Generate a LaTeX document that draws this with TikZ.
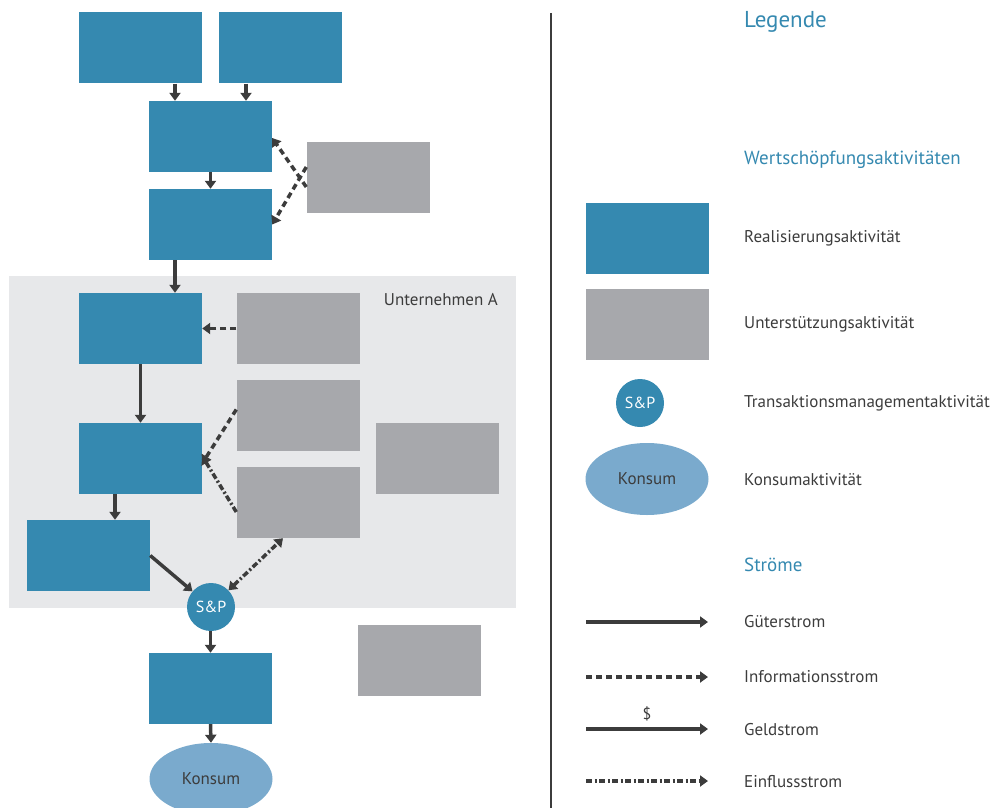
\documentclass[tikz,border=0pt]{standalone}
\usepackage{fontspec}
\setmainfont{PT Sans}
\usetikzlibrary{arrows.meta,shapes.geometric}
\definecolor{SPBlue}{RGB}{53,137,176}
\definecolor{SPGray}{RGB}{167,168,172}
\definecolor{SPBack}{RGB}{231,232,234}
\definecolor{KonsumBlue}{RGB}{122,170,205}
\definecolor{FlowGray}{RGB}{60,60,60}

\tikzset{
	realbox/.style={rectangle, fill=SPBlue, draw=none, minimum width=123pt, minimum height=71pt, inner sep=0pt},
	stuetzbox/.style={rectangle, fill=SPGray, draw=none, minimum width=123pt, minimum height=71pt, inner sep=0pt},
	tmcircle/.style={circle, fill=SPBlue, draw=none, minimum size=48pt, inner sep=0pt, text=white, font=\fontsize{16}{18}\selectfont},
	konsumoval/.style={ellipse, fill=KonsumBlue, draw=none, minimum width=123pt, minimum height=72pt, inner sep=0pt, text=FlowGray, font=\fontsize{17}{20}\selectfont},
	legtext/.style={anchor=west, inner sep=0pt, text=FlowGray, font=\fontsize{17}{20}\selectfont},
	legtitle/.style={anchor=west, inner sep=0pt, text=SPBlue, font=\fontsize{19}{22}\selectfont},
	flowtip/.style={-{Triangle[width=11pt,length=8pt]}},
	gueter/.style={draw=FlowGray, line width=3.5pt, flowtip},
	info/.style={draw=FlowGray, line width=3.5pt, dash pattern=on 6pt off 4pt, flowtip},
	einfluss/.style={draw=FlowGray, line width=3.5pt, dash pattern=on 6pt off 2.5pt on 2pt off 2.5pt, flowtip}
}

\begin{document}
\begin{tikzpicture}[x=1pt,y=1pt,yscale=-1,xscale=1]
		\useasboundingbox (0,0) rectangle (996,808);

		% Grey area of the firm
		\fill[SPBack] (9,276) rectangle (516,608);
		\node[anchor=east, inner sep=0pt, text=FlowGray, font=\fontsize{17}{20}\selectfont] (firm) at (498,300) {Unternehmen A};

		% Upstream activities
		\node[realbox] (a1) at (140.5,48) {};
		\node[realbox] (a2) at (280.5,48) {};
		\node[realbox] (b1) at (210.5,136.5) {};
		\node[realbox] (b2) at (210.5,224.5) {};
		\node[stuetzbox] (g1) at (368,177.5) {};

		% Activities inside Unternehmen A
		\node[realbox] (c1) at (140.5,328.5) {};
		\node[stuetzbox] (g2) at (298,328.5) {};
		\node[realbox] (c2) at (140.5,458.5) {};
		\node[stuetzbox] (g3) at (298,415.5) {};
		\node[stuetzbox] (g4) at (298,502.5) {};
		\node[stuetzbox] (g5) at (437,458.5) {};
		\node[realbox] (c3) at (88.5,555.5) {};

		% Downstream activities
		\node[tmcircle] (sp) at (211,607) {S\&P};
		\node[realbox] (d1) at (210.5,688.5) {};
		\node[stuetzbox] (g6) at (419,660.5) {};
		\node[konsumoval] (kons) at (211,779) {Konsum};

		% Flows
		\draw[gueter] ([xshift=-35.5pt]b1.north |- a1.south) -- ([xshift=-35.5pt]b1.north);
		\draw[gueter] ([xshift=35.5pt]b1.north |- a2.south) -- ([xshift=35.5pt]b1.north);
		\draw[gueter] (b1.south) -- (b2.north);
		\draw[info] ([yshift=9.5pt]g1.west) -- ([yshift=1.5pt]b1.east);
		\draw[info] ([yshift=-10.5pt]g1.west) -- (b2.east);
		\draw[gueter] ([xshift=-35.5pt]b2.south) -- ([xshift=-35.5pt]b2.south |- c1.north);
		\draw[info] (g2.west) -- (c1.east);
		\draw[gueter] (c1.south) -- (c2.north);
		\draw[info] ([yshift=-6pt]g3.west) -- ([yshift=5pt]c2.east);
		\draw[einfluss] ([yshift=9.5pt]g4.west) -- ([yshift=-2.5pt]c2.east);
		\draw[gueter] ([xshift=-25.5pt]c2.south) -- ([xshift=-25.5pt]c2.south |- c3.north);
		\draw[gueter] (c3.east) -- (sp);
		\draw[einfluss, {Triangle[width=11pt,length=8pt]}-{Triangle[width=11pt,length=8pt]}] (sp) -- ([xshift=-15pt]g4.south);
		\draw[gueter] (sp.south -| d1.north) -- (d1.north);
		\draw[gueter] (d1.south) -- (kons.north);

		% Separator
		\draw[FlowGray, line width=2pt] (551,13) -- (551,808);

		% Legend
		\node[legtitle, font=\fontsize{23}{26}\selectfont] (legende) at (744,22) {Legende};
		\node[legtitle] (wsa) at (744,160) {Wertschöpfungsaktivitäten};
		\node[realbox] (lr) at (647,238) {};
		\node[legtext] (lrtext) at (744,238) {Realisierungsaktivität};
		\node[stuetzbox] (lu) at (647,324) {};
		\node[legtext] (lutext) at (744,324) {Unterstützungsaktivität};
		\node[tmcircle] (lt) at (640,403) {S\&P};
		\node[legtext] (lttext) at (744,403) {Transaktionsmanagementaktivität};
		\node[konsumoval] (lk) at (647,479) {Konsum};
		\node[legtext] (lktext) at (744,480) {Konsumaktivität};

		% Legend of the flows
		\node[legtitle] (stroeme) at (744,565) {Ströme};
		\coordinate (gstart) at (586,622);
		\coordinate (gend) at (708,622);
		\coordinate (istart) at (586,677);
		\coordinate (iend) at (708,677);
		\coordinate (dstart) at (586,729);
		\coordinate (dend) at (708,729);
		\coordinate (estart) at (586,781);
		\coordinate (eend) at (708,781);
		\draw[gueter] (gstart) -- (gend);
		\draw[info] (istart) -- (iend);
		\draw[gueter] (dstart) -- node[above=3pt, text=FlowGray, font=\fontsize{16}{18}\selectfont] (dollar) {\$} (dend);
		\draw[einfluss] (estart) -- (eend);
		\node[legtext] (gtext) at (744,622) {Güterstrom};
		\node[legtext] (itext) at (744,677) {Informationsstrom};
		\node[legtext] (dtext) at (744,730) {Geldstrom};
		\node[legtext] (etext) at (744,782) {Einflussstrom};
	\end{tikzpicture}
\end{document}
